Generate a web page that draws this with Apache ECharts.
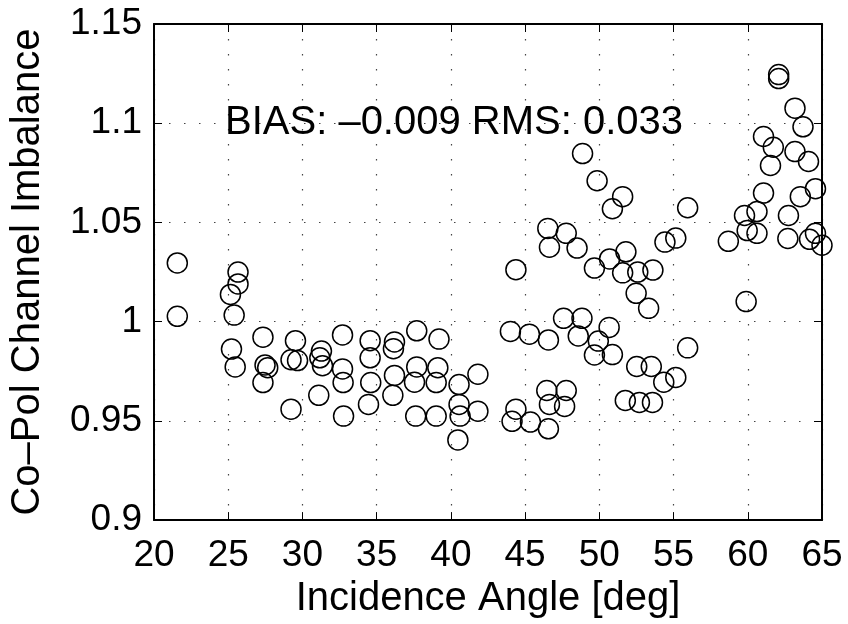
<!DOCTYPE html>
<html>
<head>
<meta charset="utf-8">
<script src="https://cdn.jsdelivr.net/npm/echarts@6/dist/echarts.min.js"></script>
<style>
html,body{margin:0;padding:0;background:#fff;}
#chart{width:848px;height:624px;}
</style>
</head>
<body>
<div id="chart"></div>
<script>
// Incidence angle [deg]
const angles = [
  21.57,21.57,25.15,25.66,25.66,25.40,25.22,25.47,27.34,27.48,27.66,27.34,
  29.53,29.23,29.67,29.23,31.28,31.17,31.35,31.10,32.70,32.70,32.74,32.77,
  34.56,34.56,34.60,34.45,36.20,36.13,36.20,36.09,37.70,37.70,37.55,37.63,
  39.20,39.12,39.01,39.01,40.55,40.55,40.62,40.47,41.82,41.82,
  44.38,44.01,45.29,44.38,44.12,45.36,46.57,46.53,46.64,46.46,46.64,46.57,
  47.77,48.50,47.59,47.77,47.66,48.83,48.58,48.87,49.85,49.67,49.93,49.67,
  50.69,50.88,51.57,50.66,50.88,51.79,51.57,52.48,52.59,53.61,53.32,52.52,
  53.50,51.75,52.70,53.58,54.42,55.15,54.34,55.15,55.95,55.95,
  58.69,59.78,59.96,59.89,60.62,60.62,61.06,61.06,61.72,61.53,62.08,62.08,
  63.18,63.72,63.18,64.09,63.54,62.74,64.56,62.70,64.16,64.56,65.00
];
// Co-Pol channel imbalance
const imbalance = [
  1.0296,1.0027,1.0137,1.0250,1.0190,1.0033,0.9862,0.9772,0.9922,0.9782,0.9768,0.9693,
  0.9904,0.9808,0.9804,0.9559,0.9852,0.9818,0.9778,0.9629,0.9933,0.9762,0.9693,0.9524,
  0.9904,0.9818,0.9693,0.9583,0.9898,0.9864,0.9729,0.9629,0.9954,0.9772,0.9695,0.9524,
  0.9912,0.9768,0.9693,0.9524,0.9683,0.9583,0.9524,0.9404,0.9735,0.9549,
  1.0262,0.9951,0.9937,0.9559,0.9498,0.9494,0.9908,1.0470,1.0375,0.9653,0.9583,0.9460,
  1.0445,1.0371,1.0017,0.9653,0.9573,1.0017,0.9928,1.0847,1.0710,1.0270,0.9902,0.9832,
  1.0316,1.0569,1.0630,0.9971,0.9834,1.0352,1.0246,1.0143,1.0250,1.0260,1.0067,0.9774,
  0.9774,0.9603,0.9593,0.9593,1.0401,1.0421,0.9695,0.9719,1.0574,0.9868,
  1.0405,1.0535,1.0459,1.0101,1.0555,1.0445,1.0648,1.0933,1.0879,1.0787,1.1245,1.1225,
  1.1076,1.0982,1.0857,1.0807,1.0630,1.0535,1.0670,1.0419,1.0415,1.0445,1.0385
];
const xTicks = [20,25,30,35,40,45,50,55,60,65];
const yTicks = [0.9,0.95,1,1.05,1.1,1.15];
const xTitle = 'Incidence Angle [deg]';
const yTitle = 'Co\u2013Pol Channel Imbalance';
const annotation = 'BIAS: \u20130.009 RMS: 0.033';

const points = angles.map((a, i) => [a, imbalance[i]]);
const FONT = '"Liberation Sans", Arial, Helvetica, sans-serif';

const chart = echarts.init(document.getElementById('chart'), null, {renderer: 'canvas'});

const gridDots = {show: true, lineStyle: {color: '#444', width: 1.2, type: [1.5, 13.5]}};
const xMin = xTicks[0], xMax = xTicks[xTicks.length - 1], xInt = xTicks[1] - xTicks[0];
const yMin = yTicks[0], yMax = yTicks[yTicks.length - 1], yInt = +(yTicks[1] - yTicks[0]).toFixed(2);
const fmtY = v => String(parseFloat(v.toFixed(2)));

chart.setOption({
  backgroundColor: '#fff',
  animation: false,
  grid: {left: 154, right: 26, top: 24, bottom: 101, containLabel: false},
  xAxis: [{
    type: 'value', min: xMin, max: xMax, interval: xInt, position: 'bottom',
    name: xTitle, nameLocation: 'middle', nameGap: 56,
    nameTextStyle: {fontFamily: FONT, fontSize: 40, color: '#000'},
    axisLine: {show: true, onZero: false, lineStyle: {color: '#000', width: 2}},
    axisTick: {show: true, inside: true, length: 8, lineStyle: {color: '#000', width: 1}},
    axisLabel: {fontFamily: FONT, fontSize: 37, color: '#000', margin: 17},
    splitLine: gridDots
  }, {
    type: 'value', min: xMin, max: xMax, interval: xInt, position: 'top',
    axisLine: {show: true, onZero: false, lineStyle: {color: '#000', width: 2}},
    axisTick: {show: true, inside: true, length: 8, lineStyle: {color: '#000', width: 1}},
    axisLabel: {show: false}, splitLine: {show: false}
  }],
  yAxis: [{
    type: 'value', min: yMin, max: yMax, interval: yInt, position: 'left',
    name: yTitle, nameLocation: 'middle', nameGap: 106, nameRotate: 90,
    nameTextStyle: {fontFamily: FONT, fontSize: 40, color: '#000'},
    axisLine: {show: true, onZero: false, lineStyle: {color: '#000', width: 2}},
    axisTick: {show: true, inside: true, length: 8, lineStyle: {color: '#000', width: 1}},
    axisLabel: {fontFamily: FONT, fontSize: 37, color: '#000', margin: 12, formatter: fmtY},
    splitLine: gridDots
  }, {
    type: 'value', min: yMin, max: yMax, interval: yInt, position: 'right',
    axisLine: {show: true, onZero: false, lineStyle: {color: '#000', width: 2}},
    axisTick: {show: true, inside: true, length: 8, lineStyle: {color: '#000', width: 1}},
    axisLabel: {show: false}, splitLine: {show: false}
  }],
  graphic: [{
    type: 'text', left: 225, top: 103, silent: true, z: 10,
    style: {text: annotation, font: '40px ' + FONT, fill: '#000'}
  }],
  series: [{
    type: 'scatter', xAxisIndex: 0, yAxisIndex: 0,
    data: points, symbol: 'circle', symbolSize: 20,
    itemStyle: {color: 'rgba(0,0,0,0)', borderColor: '#000', borderWidth: 1.5, opacity: 1},
    emphasis: {disabled: true}
  }]
});
</script>
</body>
</html>
